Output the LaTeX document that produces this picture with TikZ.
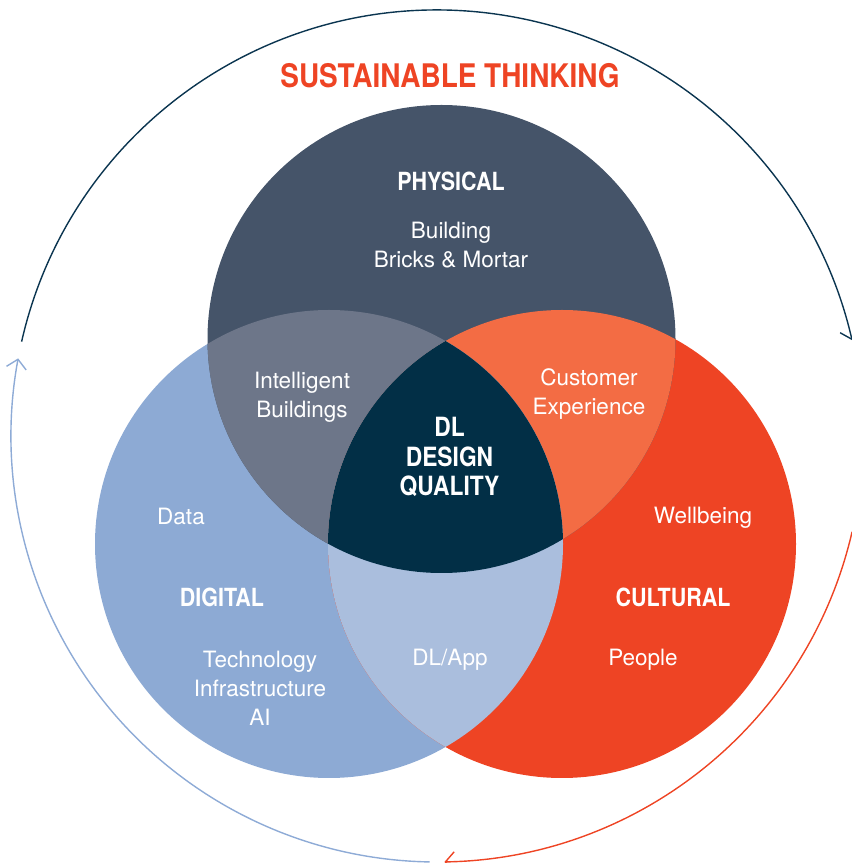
\documentclass[tikz,border=0pt]{standalone}
\usepackage{fontspec}
\setmainfont{TeX Gyre Heros}
\newfontfamily\condbf{TeX Gyre Heros}[FakeStretch=0.86]
\usetikzlibrary{arrows.meta}
\definecolor{slate}{HTML}{455469}
\definecolor{blueL}{HTML}{8DAAD4}
\definecolor{redR}{HTML}{EE4424}
\definecolor{grayTL}{HTML}{6D7689}
\definecolor{orangeTR}{HTML}{F36C44}
\definecolor{paleLR}{HTML}{AABEDD}
\definecolor{navy}{HTML}{022F46}
\definecolor{darkarc}{HTML}{0B3550}
\definecolor{bluearc}{HTML}{8EABD6}
\begin{document}
\begin{tikzpicture}[
  lbl/.style={text=white, font=\fontsize{22.5}{29}\selectfont, align=center, inner sep=0pt},
  head/.style={text=white, font=\condbf\bfseries\fontsize{25}{30}\selectfont, align=center, inner sep=0pt},
  cyc/.style={line width=1.4pt, -{Straight Barb[length=9pt,width=20pt,line width=1.4pt]}},
]
\useasboundingbox (0,0) rectangle (852pt,863pt);
\def\rad{234pt}
\coordinate (cT) at (441.5pt,524pt);
\coordinate (cL) at (329pt,319pt);
\coordinate (cR) at (562pt,319pt);
\coordinate (cO) at (437pt,427pt);
% base circles
\fill[blueL] (cL) circle[radius=\rad];
\fill[redR] (cR) circle[radius=\rad];
\fill[slate] (cT) circle[radius=\rad];
% pairwise overlaps
\begin{scope}
  \clip (cT) circle[radius=\rad];
  \fill[grayTL] (cL) circle[radius=\rad];
  \fill[orangeTR] (cR) circle[radius=\rad];
\end{scope}
\begin{scope}
  \clip (cL) circle[radius=\rad];
  \fill[paleLR] (cR) circle[radius=\rad];
\end{scope}
% triple overlap
\begin{scope}
  \clip (cT) circle[radius=\rad];
  \clip (cL) circle[radius=\rad];
  \fill[navy] (cR) circle[radius=\rad];
\end{scope}
% outer cycle arcs
\draw[cyc, darkarc] ([shift={(167.2:426pt)}]cO) arc[start angle=167.2, end angle=13, radius=426pt];
\draw[cyc, redR] ([shift={(-13:426pt)}]cO) arc[start angle=-13, end angle=-89, radius=426pt];
\draw[cyc, bluearc] ([shift={(-91:426pt)}]cO) arc[start angle=-91, end angle=-190.5, radius=426pt];
% texts
\node[anchor=base, inner sep=0pt, text=redR, font=\condbf\bfseries\fontsize{32.5}{36}\selectfont] (title) at (450pt,775pt) {SUSTAINABLE THINKING};
\node[head, anchor=base] (phys) at (451pt,672pt) {PHYSICAL};
\node[lbl] (physsub) at (451pt,617.5pt) {Building\\Bricks \& Mortar};
\node[lbl] (ib) at (302pt,466pt) {Intelligent\\Buildings};
\node[lbl] (ce) at (589pt,469pt) {Customer\\Experience};
\node[head, font=\condbf\bfseries\fontsize{26.5}{29.5}\selectfont] (dq) at (449.5pt,406pt) {DL\\DESIGN\\QUALITY};
\node[lbl, anchor=base] (data) at (181pt,338pt) {Data};
\node[head, anchor=base] (dig) at (222pt,256pt) {DIGITAL};
\node[lbl] (tech) at (260pt,175pt) {Technology\\Infrastructure\\AI};
\node[lbl, anchor=base] (app) at (450pt,197pt) {DL/App};
\node[lbl, anchor=base] (well) at (703pt,339pt) {Wellbeing};
\node[head, anchor=base] (cult) at (673pt,256pt) {CULTURAL};
\node[lbl, anchor=base] (people) at (643pt,197pt) {People};
\end{tikzpicture}
\end{document}
